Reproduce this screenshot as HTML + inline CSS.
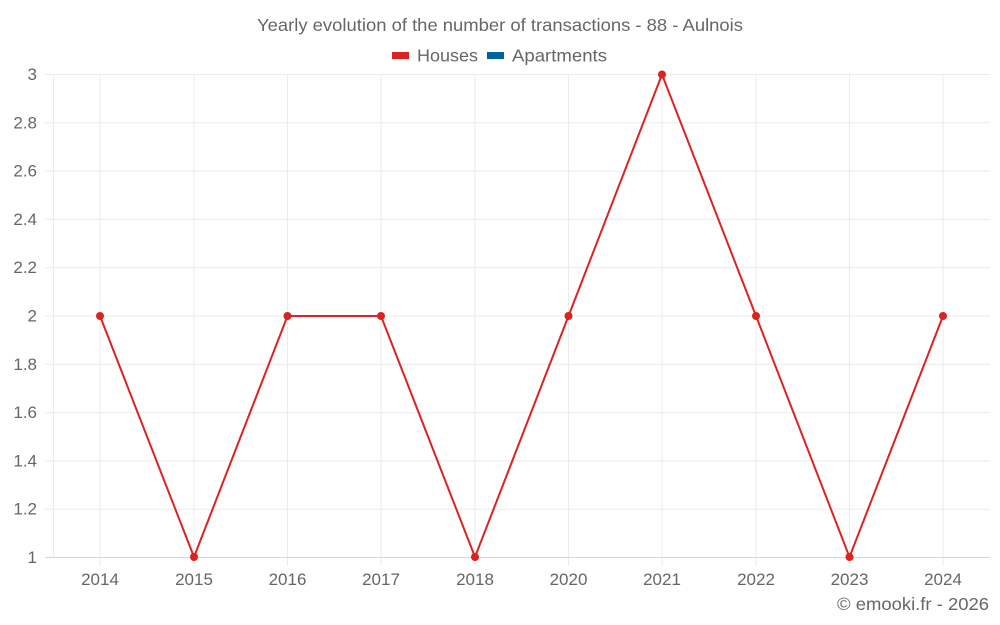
<!DOCTYPE html>
<html><head><meta charset="utf-8"><style>
html,body{margin:0;padding:0;background:#fff;}
svg{display:block;}
text{font-family:"Liberation Sans",Arial,sans-serif;fill:#666;}
</style></head><body>
<svg width="1000" height="625" viewBox="0 0 1000 625" xmlns="http://www.w3.org/2000/svg">
<text x="257" y="31" font-size="17.5" textLength="486" lengthAdjust="spacingAndGlyphs">Yearly evolution of the number of transactions - 88 - Aulnois</text>
<rect x="392" y="52" width="17" height="7" fill="#dd2222"/>
<text x="417" y="61.5" font-size="17.5" textLength="61" lengthAdjust="spacingAndGlyphs">Houses</text>
<rect x="487" y="52" width="17" height="7" fill="#00629e"/>
<text x="512" y="61.5" font-size="17.5" textLength="95" lengthAdjust="spacingAndGlyphs">Apartments</text>
<g stroke="#ebebeb" stroke-width="1">
<line x1="45" y1="74.5" x2="990" y2="74.5"/>
<line x1="45" y1="122.8" x2="990" y2="122.8"/>
<line x1="45" y1="171.1" x2="990" y2="171.1"/>
<line x1="45" y1="219.4" x2="990" y2="219.4"/>
<line x1="45" y1="267.7" x2="990" y2="267.7"/>
<line x1="45" y1="316" x2="990" y2="316"/>
<line x1="45" y1="364.3" x2="990" y2="364.3"/>
<line x1="45" y1="412.6" x2="990" y2="412.6"/>
<line x1="45" y1="460.9" x2="990" y2="460.9"/>
<line x1="45" y1="509.2" x2="990" y2="509.2"/>
<line x1="53.5" y1="74" x2="53.5" y2="557"/>
<line x1="100" y1="74" x2="100" y2="566"/>
<line x1="194" y1="74" x2="194" y2="566"/>
<line x1="287.5" y1="74" x2="287.5" y2="566"/>
<line x1="381" y1="74" x2="381" y2="566"/>
<line x1="475" y1="74" x2="475" y2="566"/>
<line x1="568.5" y1="74" x2="568.5" y2="566"/>
<line x1="662" y1="74" x2="662" y2="566"/>
<line x1="756" y1="74" x2="756" y2="566"/>
<line x1="849.5" y1="74" x2="849.5" y2="566"/>
<line x1="943" y1="74" x2="943" y2="566"/>
</g>
<line x1="45" y1="557.5" x2="990" y2="557.5" stroke="#d6d6d6" stroke-width="1"/>
<g font-size="17" text-anchor="end">
<text x="37" y="80">3</text>
<text x="37" y="128.3">2.8</text>
<text x="37" y="176.6">2.6</text>
<text x="37" y="224.9">2.4</text>
<text x="37" y="273.2">2.2</text>
<text x="37" y="321.5">2</text>
<text x="37" y="369.8">1.8</text>
<text x="37" y="418.1">1.6</text>
<text x="37" y="466.4">1.4</text>
<text x="37" y="514.7">1.2</text>
<text x="37" y="563">1</text>
</g>
<g font-size="17" text-anchor="middle">
<text x="100" y="585">2014</text>
<text x="194" y="585">2015</text>
<text x="287.5" y="585">2016</text>
<text x="381" y="585">2017</text>
<text x="475" y="585">2018</text>
<text x="568.5" y="585">2020</text>
<text x="662" y="585">2021</text>
<text x="756" y="585">2022</text>
<text x="849.5" y="585">2023</text>
<text x="943" y="585">2024</text>
</g>
<text x="837" y="610" font-size="17.5" textLength="152" lengthAdjust="spacingAndGlyphs">© emooki.fr - 2026</text>
<polyline fill="none" stroke="#dd2222" stroke-width="2" stroke-linejoin="round" points="100,316 194,557 287.5,316 381,316 475,557 568.5,316 662,74.5 756,316 849.5,557 943,316"/>
<g fill="#dd2222">
<circle cx="100" cy="316" r="4"/>
<circle cx="194" cy="557" r="4"/>
<circle cx="287.5" cy="316" r="4"/>
<circle cx="381" cy="316" r="4"/>
<circle cx="475" cy="557" r="4"/>
<circle cx="568.5" cy="316" r="4"/>
<circle cx="662" cy="74.5" r="4"/>
<circle cx="756" cy="316" r="4"/>
<circle cx="849.5" cy="557" r="4"/>
<circle cx="943" cy="316" r="4"/>
</g>
</svg>
</body></html>
